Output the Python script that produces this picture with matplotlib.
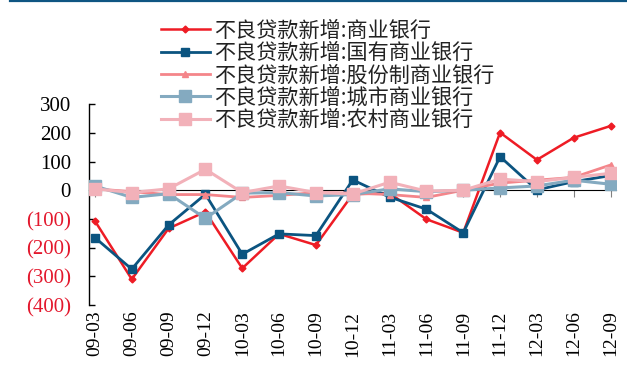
import matplotlib.pyplot as plt
from matplotlib.lines import Line2D

plt.rcParams['font.family'] = ['Liberation Serif', 'DejaVu Serif']

quarters = ['09-03', '09-06', '09-09', '09-12', '10-03', '10-06', '10-09', '10-12',
            '11-03', '11-06', '11-09', '11-12', '12-03', '12-06', '12-09']

# 不良贷款新增（亿元）
commercial = [-107, -310, -133, -75, -272, -152, -191, -14, -10, -101, -148, 201, 106, 183, 224]
state_owned = [-165, -275, -121, -14, -223, -152, -158, 36, -24, -66, -148, 117, 1, 30, 51]
joint_stock = [5, -5, -15, -15, -25, -18, -8, -10, -15, -25, 0, 25, 35, 45, 88]
city = [15, -25, -12, -98, -10, -8, -20, -15, 5, -5, 0, 8, 15, 35, 21]
rural = [5, -8, 5, 73, -8, 15, -8, -13, 28, -3, 0, 39, 30, 45, 59]

labels = ['不良贷款新增:商业银行', '不良贷款新增:国有商业银行', '不良贷款新增:股份制商业银行',
          '不良贷款新增:城市商业银行', '不良贷款新增:农村商业银行']

fig = plt.figure(figsize=(6.27, 3.72), dpi=100)
ax = fig.add_axes([0.142, 0.180, 0.840, 0.540])

x = range(len(quarters))
ax.plot(x, commercial, color='#EE1C25', lw=1.8, marker='D', ms=3.5, label=labels[0], zorder=3)
ax.plot(x, state_owned, color='#0B5480', lw=2.0, marker='s', ms=6, label=labels[1], zorder=4)
ax.plot(x, joint_stock, color='#F4858A', lw=2.0, marker='^', ms=4, label=labels[2], zorder=5)
ax.plot(x, city, color='#84AAC0', lw=2.2, marker='s', ms=9, label=labels[3], zorder=6)
ax.plot(x, rural, color='#F2B1B9', lw=2.2, marker='s', ms=9, label=labels[4], zorder=7)

ax.set_ylim(-400, 300)
ax.set_xlim(-0.16, 14.14)
ax.set_yticks(range(-400, 301, 100))
ax.set_yticklabels([f'({-v})' if v < 0 else str(v) for v in range(-400, 301, 100)])
for t, v in zip(ax.get_yticklabels(), range(-400, 301, 100)):
    t.set_color('#E3182D' if v < 0 else 'black')
ax.tick_params(axis='y', direction='in', length=4.5, width=1, labelsize=15, pad=13)

ax.set_xticks(list(x))
ax.set_xticklabels(quarters, rotation=90, fontsize=14)
ax.tick_params(axis='x', length=0, pad=4)

for side in ['top', 'right', 'bottom']:
    ax.spines[side].set_visible(False)
ax.spines['left'].set_linewidth(1)

# zero line carries the category ticks
zero = ax.secondary_xaxis(4 / 7)
zero.set_xticks(list(x))
zero.tick_params(direction='in', length=5, color='#808080', labelbottom=False, labeltop=False)
zero.spines['bottom'].set_linewidth(1.2)

fig.add_artist(Line2D([0.016, 1], [0.997, 0.997], color='#0E5582', lw=1.6))

ax.legend(loc='upper left', bbox_to_anchor=(0.240, 0.976), bbox_transform=fig.transFigure,
          frameon=False, borderpad=0, labelspacing=0.02, handlelength=2.3, handletextpad=0.2,
          prop={'family': ['Noto Sans CJK SC', 'DejaVu Sans'], 'size': 15.2},
          labelcolor='#222222')

fig.savefig('out.png', dpi=100)
